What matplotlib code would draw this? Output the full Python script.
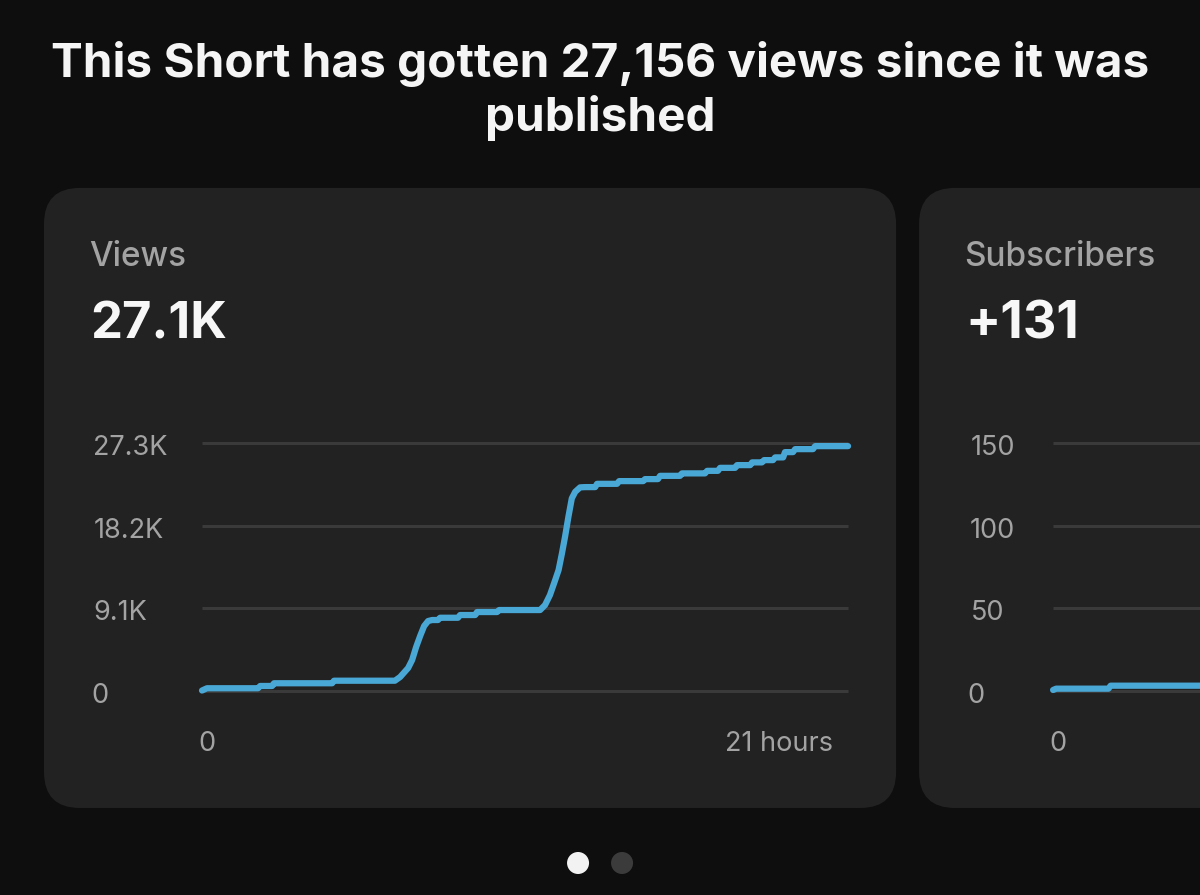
import matplotlib
matplotlib.use("Agg")
import matplotlib.pyplot as plt
from matplotlib.patches import FancyBboxPatch, Circle
from matplotlib.transforms import Affine2D

plt.rcParams['font.family'] = ['Inter', 'DejaVu Sans']

# ---- data ----
title_text = "This Short has gotten 27,156 views since it was\npublished"
views_hours = [0, 0.16, 1.82, 1.89, 2.28, 2.34, 4.23, 4.29, 6.27, 6.44, 6.70, 6.83, 6.96, 7.09, 7.22, 7.35,
               7.48, 7.67, 7.74, 8.32, 8.39, 8.88, 8.94, 9.59, 9.66, 10.99, 11.15, 11.31, 11.48, 11.59,
               11.70, 11.80, 11.91, 12.02, 12.13, 12.29, 12.45, 12.78, 12.84, 13.49, 13.56, 14.34, 14.40,
               14.82, 14.89, 15.54, 15.60, 16.35, 16.42, 16.77, 16.84, 17.33, 17.39, 17.82, 17.88, 18.20,
               18.27, 18.56, 18.63, 18.89, 18.95, 19.21, 19.28, 19.86, 19.93, 21]
views_values = [50, 300, 300, 550, 550, 850, 850, 1130, 1130, 1540, 2530, 3410, 4840, 6050, 7150, 7700,
                7810, 7810, 8060, 8060, 8360, 8360, 8690, 8690, 8910, 8910, 9460, 10560, 12210, 13310,
                15150, 16970, 19180, 21200, 21920, 22410, 22440, 22440, 22800, 22800, 23100, 23100, 23320,
                23320, 23680, 23680, 23950, 23950, 24230, 24230, 24560, 24560, 24860, 24860, 25160, 25160,
                25410, 25410, 25710, 25710, 26290, 26290, 26620, 26620, 26950, 26950]
views_ticks = [0, 9100, 18200, 27300]
views_ticklabels = ["0", "9.1K", "18.2K", "27.3K"]

subs_hours = [0, 0.1, 1.80, 1.87, 21]
subs_values = [0.6, 1.4, 1.4, 3.2, 3.2]
subs_ticks = [0, 50, 100, 150]
subs_ticklabels = ["0", "50", "100", "150"]

views_xticks = [0, 21]
views_xticklabels = ["0", "21 hours"]
subs_xticks = [0]
subs_xticklabels = ["0"]

W, H = 1200, 895
BG, CARD, GRID, LINE, MUTED = '#0e0e0e', '#222222', '#3a3a3a', '#4aa8d6', '#a3a3a3'

fig = plt.figure(figsize=(W / 100 + 0.001, H / 100 + 0.001), dpi=100, facecolor=BG)

# page layer in pixel coordinates
page = fig.add_axes([0, 0, 1, 1])
page.set_xlim(0, W)
page.set_ylim(H, 0)
page.axis('off')
for x0, w in [(44, 852), (919, 900)]:
    page.add_patch(FancyBboxPatch((x0 + 36, 188 + 36), w - 72, 620 - 72,
                                  boxstyle="round,pad=36,rounding_size=36",
                                  fc=CARD, ec='none', zorder=1))
page.add_patch(Circle((578, 863), 11, fc='#f2f2f2', ec='none'))
page.add_patch(Circle((622, 863), 11, fc='#3b3b3b', ec='none'))

page.text(600, 91, title_text, ha='center', va='center', color='#f5f5f5',
          fontsize=34.3, fontweight='bold', linespacing=1.22)
page.text(89, 257, "Views", ha='left', va='center', color=MUTED, fontsize=24, fontweight='medium')
page.text(90, 325, "27.1K", ha='left', va='center', color='#f7f7f7', fontsize=36.5, fontweight='bold')
page.text(964, 257, "Subscribers", ha='left', va='center', color=MUTED, fontsize=24, fontweight='medium')
page.text(965, 325, "+131", ha='left', va='center', color='#f7f7f7', fontsize=37.5, fontweight='bold')


def panel(left_px, hours, values, ticks, ticklabels, xticks, xticklabels, ymax, y_dx, x_dx, x_ha):
    ax = fig.add_axes([left_px / W, (H - 691) / H, 646 / W, 248 / H])
    ax.patch.set_alpha(0)
    ax.set_xlim(0, 21)
    ax.set_ylim(0, ymax)
    for s in ax.spines.values():
        s.set_visible(False)
    ax.set_yticks(ticks, ticklabels)
    ax.set_xticks(xticks, xticklabels)
    ax.tick_params(axis='both', length=0, colors=MUTED, labelsize=19.5)
    ax.tick_params(axis='y', pad=0)
    ax.tick_params(axis='x', pad=38)
    ax.grid(axis='y', color=GRID, lw=2.2)
    ax.grid(axis='x', visible=False)
    ax.set_axisbelow(True)
    for g in ax.yaxis.get_gridlines():
        g.set_clip_on(False)
        g.set_solid_capstyle('butt')
    ax.plot(hours, values, color=LINE, lw=4.5, clip_on=False, solid_capstyle='round',
            solid_joinstyle='round', zorder=3)
    for lab, dx in zip(ax.get_yticklabels(), y_dx):
        lab.set_ha('right')
        lab.set_transform(lab.get_transform() + Affine2D().translate(dx, -2))
    for lab, dx, ha in zip(ax.get_xticklabels(), x_dx, x_ha):
        lab.set_ha(ha)
        lab.set_va('center')
        lab.set_transform(lab.get_transform() + Affine2D().translate(dx, 0))
    return ax


panel(202, views_hours, views_values, views_ticks, views_ticklabels, views_xticks, views_xticklabels,
      27300, (-94, -55, -38, -35), (5, -15), ('center', 'right'))
panel(1053, subs_hours, subs_values, subs_ticks, subs_ticklabels, subs_xticks, subs_xticklabels,
      150, (-69, -49, -38, -38), (5,), ('center',))

fig.savefig("out.png", dpi=100, facecolor=BG)
